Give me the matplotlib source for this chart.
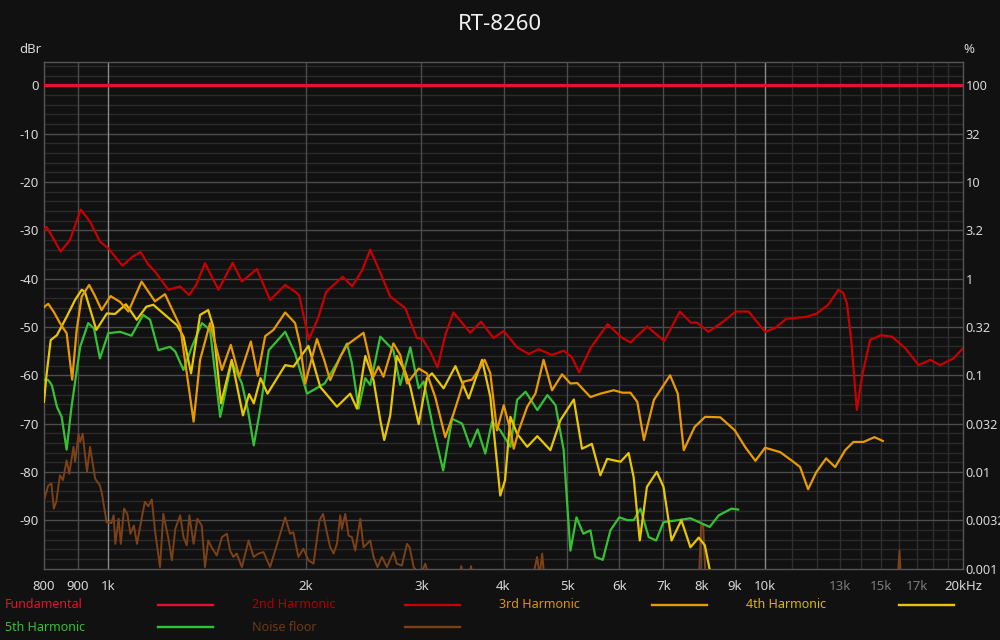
import matplotlib
matplotlib.use('Agg')
import matplotlib.pyplot as plt
from matplotlib.lines import Line2D
import numpy as np

plt.rcParams['font.family'] = ['Noto Sans', 'DejaVu Sans']

# ---- data (Hz, dBr) ----
fund_f = [800, 20000]
fund_db = [0, 0]

h2_f = [800, 807, 822, 848, 876, 910, 940, 973, 1002, 1053, 1092, 1122, 1153, 1180,
        1237, 1289, 1330, 1363, 1406, 1474, 1549, 1600, 1686, 1766, 1862, 1928, 1955,
        2023, 2090, 2150, 2277, 2355, 2439, 2508, 2580, 2690, 2836, 2953, 3005, 3095,
        3175, 3261, 3356, 3561, 3697, 3862, 4003, 4195, 4370, 4526, 4741, 4938, 5084,
        5213, 5423, 5761, 6027, 6239, 6617, 7025, 7419, 7710, 7884, 8200, 8612, 9023,
        9438, 10000, 10357, 10770, 11573, 11986, 12470, 12929, 13142, 13317, 13520,
        13790, 14051, 14445, 15000, 15590, 16340, 17118, 17832, 18464, 19344, 20000]
h2_db = [-29.9, -29.3, -31.1, -34.4, -32.0, -25.7, -28.2, -32.3, -33.7, -37.3, -35.4,
         -34.5, -37.1, -38.5, -42.3, -41.6, -43.4, -41.3, -36.8, -42.3, -36.7, -40.6,
         -38.0, -44.4, -41.3, -42.7, -43.4, -52.6, -48.1, -42.7, -39.6, -41.6, -38.2,
         -34.0, -37.8, -43.7, -46.1, -52.3, -52.3, -55.1, -58.4, -51.7, -47.0, -51.2,
         -48.9, -52.3, -50.8, -54.2, -55.6, -54.6, -55.8, -54.9, -56.3, -59.4, -54.4,
         -49.4, -52.0, -53.2, -49.9, -52.9, -46.8, -49.1, -49.1, -51.0, -49.0, -46.8,
         -46.8, -51.0, -50.2, -48.3, -47.9, -47.2, -45.4, -42.3, -42.9, -45.1, -52.7,
         -67.2, -60.0, -52.7, -51.7, -52.0, -54.4, -57.9, -56.8, -57.9, -56.5, -54.4]

h3_f = [800, 812, 828, 846, 866, 883, 897, 913, 937, 955, 979, 1010, 1044, 1075, 1126,
        1180, 1222, 1289, 1351, 1382, 1431, 1492, 1539, 1586, 1651, 1691, 1736, 1787,
        1862, 1928, 1962, 1997, 2081, 2134, 2180, 2258, 2312, 2450, 2537, 2581, 2627,
        2720, 2786, 2853, 2972, 3059, 3149, 3262, 3359, 3480, 3582, 3666, 3744, 3820,
        3910, 4004, 4098, 4146, 4220, 4346, 4473, 4603, 4741, 4911, 5056, 5179, 5423,
        5616, 5886, 6065, 6239, 6391, 6541, 6774, 7169, 7364, 7521, 7812, 8106, 8548,
        8993, 9330, 9667, 10000, 10540, 11040, 11304, 11626, 11958, 12383, 12780,
        13237, 13627, 14112, 14668, 15103]
h3_db = [-45.9, -45.2, -46.9, -49.2, -51.3, -60.9, -50.6, -43.7, -41.3, -43.4, -46.5,
         -43.6, -44.8, -46.8, -40.6, -44.7, -43.2, -49.9, -69.6, -56.8, -49.2, -58.9,
         -53.7, -60.3, -53.0, -60.1, -51.9, -50.6, -47.0, -49.2, -53.7, -61.7, -52.5,
         -56.8, -61.0, -56.2, -53.7, -51.2, -60.3, -58.2, -60.3, -53.4, -55.8, -61.7,
         -58.6, -59.6, -64.5, -72.8, -67.9, -61.3, -60.9, -58.9, -56.8, -59.6, -71.4,
         -66.2, -71.4, -75.2, -71.4, -66.5, -63.8, -56.8, -63.1, -59.8, -61.7, -61.6,
         -64.5, -63.8, -63.1, -63.6, -63.6, -65.5, -73.4, -65.1, -60.0, -63.8, -75.5,
         -70.7, -68.6, -68.7, -71.4, -74.9, -77.7, -75.0, -75.9, -77.9, -79.0, -83.6,
         -80.1, -77.2, -79.0, -75.5, -73.8, -73.8, -72.8, -73.6]

h4_f = [800, 807, 819, 837, 866, 892, 913, 923, 961, 997, 1026, 1066, 1107, 1145, 1173,
        1215, 1274, 1304, 1339, 1382, 1422, 1447, 1487, 1544, 1606, 1641, 1668, 1708,
        1750, 1862, 1917, 2020, 2105, 2232, 2338, 2394, 2465, 2537, 2598, 2634, 2690,
        2753, 2836, 2886, 2972, 3059, 3114, 3243, 3380, 3541, 3711, 3820, 3955, 4022,
        4098, 4195, 4346, 4503, 4714, 4882, 5117, 5266, 5451, 5616, 5751, 6027, 6200,
        6310, 6447, 6610, 6843, 7005, 7207, 7459, 7698, 7925, 8097, 8241, 8350]
h4_db = [-65.5, -60.0, -52.7, -51.7, -47.9, -44.4, -42.3, -42.7, -50.6, -47.2, -47.3,
         -45.3, -48.5, -45.8, -45.4, -47.2, -49.6, -52.0, -59.6, -47.5, -46.5, -49.9,
         -65.8, -56.8, -68.3, -63.9, -65.8, -60.6, -63.8, -57.9, -58.2, -53.9, -62.4,
         -66.5, -63.8, -66.9, -56.0, -61.0, -69.3, -73.4, -68.3, -56.0, -59.3, -62.4,
         -70.1, -60.6, -59.6, -62.7, -58.1, -64.8, -56.8, -64.5, -84.9, -81.7, -68.6,
         -72.1, -74.8, -72.6, -75.5, -69.3, -65.0, -75.2, -74.2, -80.7, -77.3, -77.9,
         -76.1, -81.1, -94.2, -83.1, -80.0, -83.1, -94.2, -90.0, -95.6, -93.6, -95.2,
         -100.4, -104.6]

h5_f = [800, 812, 822, 837, 851, 866, 881, 908, 934, 953, 973, 1002, 1044, 1087, 1132,
        1160, 1194, 1244, 1267, 1304, 1343, 1391, 1431, 1483, 1544, 1600, 1634, 1668,
        1705, 1758, 1862, 1928, 2010, 2138, 2232, 2312, 2352, 2408, 2465, 2508, 2598,
        2720, 2786, 2886, 2972, 3025, 3132, 3238, 3341, 3460, 3561, 3653, 3753, 3842,
        3955, 4098, 4195, 4322, 4503, 4665, 4800, 4938, 5000, 5056, 5165, 5290, 5423,
        5518, 5663, 5817, 6000, 6177, 6311, 6461, 6652, 6827, 7005, 7364, 7698, 8236,
        8500, 8890, 9100]
h5_db = [-60.9, -61.0, -62.0, -66.5, -68.6, -75.4, -66.5, -54.1, -49.2, -50.3, -56.5,
         -51.3, -51.0, -51.8, -47.5, -48.5, -54.8, -54.1, -55.1, -58.9, -54.1, -49.2,
         -50.6, -68.6, -57.2, -61.7, -67.2, -74.5, -67.2, -54.8, -51.0, -55.5, -63.8,
         -61.7, -57.5, -53.4, -57.5, -66.9, -60.6, -62.0, -52.0, -54.8, -62.0, -54.2,
         -62.7, -61.3, -71.4, -79.7, -69.0, -70.0, -74.8, -71.2, -76.2, -69.6, -71.4,
         -74.8, -65.1, -63.4, -67.2, -64.1, -66.2, -75.5, -86.6, -96.3, -89.4, -92.8,
         -92.1, -97.6, -98.2, -92.1, -89.4, -90.0, -90.0, -87.6, -93.5, -94.2, -90.4,
         -90.0, -89.6, -91.4, -89.0, -87.6, -87.8]

noise_f = [800, 812, 821, 828, 835, 846, 855, 866, 874, 887, 892, 903, 908, 916, 930,
           940, 957, 973, 980, 996, 1013, 1021, 1027, 1039, 1047, 1059, 1071, 1083,
           1096, 1108, 1126, 1139, 1153, 1167, 1180, 1201, 1215, 1237, 1252, 1267, 1289,
           1304, 1319, 1331, 1351, 1369, 1390, 1406, 1422, 1439, 1465, 1492, 1518, 1535,
           1553, 1571, 1600, 1638, 1667, 1696, 1726, 1766, 1808, 1862, 1894, 1916, 1950,
           1985, 2020, 2056, 2100, 2126, 2157, 2180, 2206, 2232, 2258, 2271, 2298, 2325,
           2352, 2380, 2422, 2450, 2479, 2508, 2537, 2573, 2613, 2659, 2720, 2753, 2802,
           2853, 2879, 2920, 2990, 3041, 3095, 3420, 3450, 3480, 3540, 3570, 3600, 4420,
           4500, 4540, 4580, 4620, 7930, 7995, 8050, 8120, 15900, 16010, 16100, 20000]
noise_db = [-85.9, -82.8, -82.4, -87.6, -86.2, -80.7, -81.7, -77.6, -80.4, -74.8, -77.9,
            -72.1, -73.8, -72.1, -80.0, -74.8, -81.4, -82.8, -84.5, -90.4, -90.6, -89.0,
            -94.9, -89.7, -94.9, -87.6, -88.7, -92.8, -91.1, -94.9, -89.7, -86.2, -87.1,
            -85.7, -92.1, -99.7, -88.7, -93.8, -98.3, -91.8, -89.0, -93.5, -95.2, -89.0,
            -94.9, -89.7, -91.1, -99.7, -94.2, -95.6, -97.3, -93.5, -92.8, -96.3, -97.6,
            -96.9, -99.7, -94.2, -97.6, -96.9, -96.6, -99.7, -95.2, -89.4, -92.8, -92.5,
            -97.6, -95.9, -98.3, -99.0, -90.0, -88.7, -92.8, -95.6, -96.9, -94.9, -89.0,
            -91.8, -88.7, -93.2, -93.5, -96.3, -89.7, -95.6, -94.9, -94.2, -97.6, -99.7,
            -97.6, -99.7, -96.6, -99.0, -99.4, -94.9, -95.6, -99.7, -101.5, -99.0, -102.5,
            -102.5, -99.5, -102.5, -102.5, -99.5, -102.5, -102.5, -97.6, -101.5, -96.9,
            -102.5, -102.5, -90.7, -91.1, -102.5, -102.5, -96.3, -102.5, -104.0]

series = [
    ('Fundamental', fund_f, fund_db, '#e8102c', '#e8102c', 2.3),
    ('2nd Harmonic', h2_f, h2_db, '#c80000', '#b00000', 1.6),
    ('3rd Harmonic', h3_f, h3_db, '#e89a00', '#e09400', 1.6),
    ('4th Harmonic', h4_f, h4_db, '#e8c600', '#d8b800', 1.6),
    ('5th Harmonic', h5_f, h5_db, '#34c234', '#34c234', 1.6),
    ('Noise floor', noise_f, noise_db, '#7c4116', '#6e3a14', 1.4),
]

xgrid = [900, 2000, 3000, 4000, 5000, 6000, 7000, 8000, 9000]
xgrid_hi = [1000, 10000]
xgrid_lo = [11000, 12000, 13000, 14000, 15000, 16000, 17000, 18000, 19000]
xlabels = [(800, '800'), (900, '900'), (1000, '1k'), (2000, '2k'), (3000, '3k'),
           (4000, '4k'), (5000, '5k'), (6000, '6k'), (7000, '7k'), (8000, '8k'),
           (9000, '9k'), (10000, '10k'), (13000, '13k'), (15000, '15k'),
           (17000, '17k'), (20000, '20kHz')]
dim_labels = ['13k', '15k', '17k']
yticks = [0, -10, -20, -30, -40, -50, -60, -70, -80, -90]
pct_labels = ['100', '32', '10', '3.2', '1', '0.32', '0.1', '0.032', '0.01', '0.0032', '0.001']

bg = '#111111'
fig = plt.figure(figsize=(10, 6.4), dpi=100, facecolor=bg)
ax = fig.add_axes([0.044, 0.1117, 0.919, 0.791])
ax.set_facecolor(bg)
ax.set_xscale('log')
ax.set_xlim(800, 20000)
ax.set_ylim(-100, 4.8)

# grid
for v in np.arange(4, -100, -2):
    if v % 10 == 0:
        ax.axhline(v, color='#4c4c4c', lw=1.0, zorder=1)
    else:
        ax.axhline(v, color='#2a2a2a', lw=1.0, zorder=0.5)
for f in xgrid:
    ax.axvline(f, color='#4c4c4c', lw=1.0, zorder=1)
for f in xgrid_lo:
    ax.axvline(f, color='#2e2e2e', lw=1.0, zorder=0.5)
for f in xgrid_hi:
    ax.axvline(f, color='#8a8a8a', lw=1.0, zorder=1)

for s in ax.spines.values():
    s.set_color('#555555')
    s.set_linewidth(1.0)

ax.set_xticks([f for f, _ in xlabels])
ax.set_xticklabels([t for _, t in xlabels])
ax.xaxis.set_minor_locator(matplotlib.ticker.NullLocator())
ax.tick_params(axis='x', length=0, pad=8, labelsize=9.5, colors='#d8d8d8')
for lab in ax.get_xticklabels():
    if lab.get_text() in dim_labels:
        lab.set_color('#7c7c7c')
ax.set_yticks(yticks)
ax.set_yticklabels([str(v) for v in yticks])
ax.tick_params(axis='y', length=0, pad=4, labelsize=9.5, colors='#d8d8d8')

ax2 = ax.twinx()
ax2.set_ylim(-100, 4.8)
ax2.set_yticks(list(range(0, -101, -10)))
ax2.set_yticklabels(pct_labels)
ax2.tick_params(axis='y', length=0, pad=2, labelsize=9.2, colors='#d8d8d8')
for s in ax2.spines.values():
    s.set_visible(False)

# curves
for name, fx, db, col, tcol, lw in series[::-1]:
    ax.plot(fx, db, color=col, lw=lw, zorder=3, solid_joinstyle='round')

fig.text(0.5, 0.962, 'RT-8260', ha='center', va='center', fontsize=16, color='#f0f0f0')
fig.text(0.030, 0.922, 'dBr', ha='center', va='center', fontsize=9.5, color='#d8d8d8')
fig.text(0.969, 0.922, '%', ha='center', va='center', fontsize=9.5, color='#d8d8d8')

# legend
cols_x = [0.005, 0.252, 0.499, 0.746]
rows_y = [0.0547, 0.0203]
for i, (name, fx, db, col, tcol, lw) in enumerate(series):
    r, c = i // 4, i % 4
    x0, y0 = cols_x[c], rows_y[r]
    fig.text(x0, y0, name, ha='left', va='center', fontsize=9, color=tcol)
    fig.add_artist(Line2D([x0 + 0.153, x0 + 0.208], [y0, y0], color=col, lw=1.7,
                          transform=fig.transFigure))

fig.savefig('out.png', dpi=100, facecolor=bg)
